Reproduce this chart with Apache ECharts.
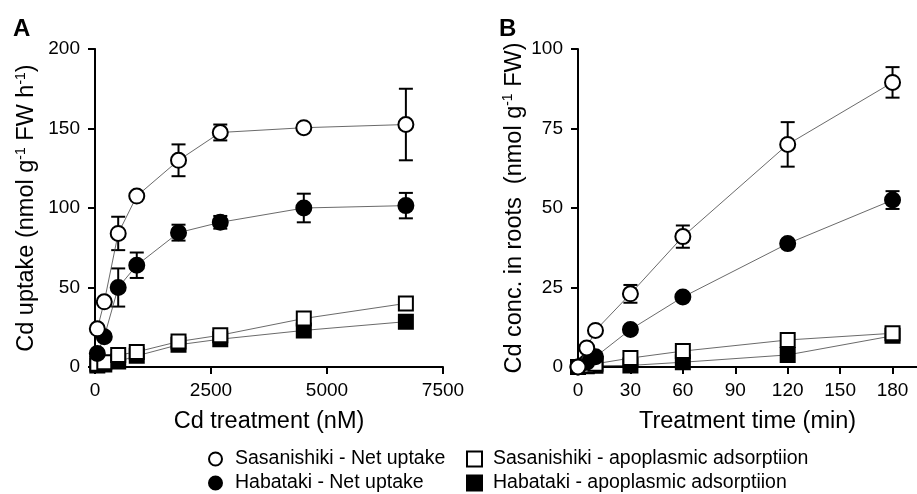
<!DOCTYPE html>
<html>
<head>
<meta charset="utf-8">
<script src="https://cdn.jsdelivr.net/npm/echarts@6/dist/echarts.min.js"></script>
<style>
  html, body { margin: 0; padding: 0; background: #fff; }
  #chart { width: 917px; height: 494px; }
</style>
</head>
<body>
<div id="chart"></div>
<script>
// Panel A: uptake vs Cd treatment (nM)
var concA = [50, 200, 500, 900, 1800, 2700, 4500, 6700];
var sasNetA = [24, 41, 84, 107.5, 130, 147.5, 150.5, 152.5];
var sasNetErrA = [0, 0, 10.5, 0, 10, 5, 0, 22.5];
var habNetA = [8.5, 19, 50, 64, 84.5, 91, 100, 101.5];
var habNetErrA = [0, 0, 12, 8, 5, 4, 9, 8];
var sasApoA = [2, 3, 7.5, 9.5, 16, 20, 30.5, 40];
var habApoA = [1, 1.5, 3.5, 7, 14, 17.5, 23, 28.5];

// Panel B: concentration vs treatment time (min)
var timeB = [0, 5, 10, 30, 60, 120, 180];
var sasNetB = [0, 6, 11.5, 23, 41, 70, 89.5];
var sasNetErrB = [0, 0, 0, 2.8, 3.5, 7, 4.8];
var habNetB = [0, 1.5, 3.2, 11.8, 22, 38.8, 52.5];
var habNetErrB = [0, 0, 0, 0, 0, 0, 2.8];
var sasApoB = [0, 0.5, 1, 2.8, 5, 8.5, 10.6];
var habApoB = [0, 0.2, 0.4, 0.5, 1.5, 3.8, 9.8];

var names = {
  sasNet: 'Sasanishiki - Net uptake',
  habNet: 'Habataki - Net uptake',
  sasApo: 'Sasanishiki - apoplasmic adsorptiion',
  habApo: 'Habataki - apoplasmic adsorptiion'
};

var FONT = "'Liberation Sans', Arial, sans-serif";

function pairs(xs, ys) {
  return xs.map(function(x, i) { return [x, ys[i]]; });
}
function triples(xs, ys, es) {
  return xs.map(function(x, i) { return [x, ys[i], es[i]]; });
}

function lineSeries(name, symbol, filled, data, gi, z) {
  return {
    name: name,
    type: 'line',
    xAxisIndex: gi * 2,
    yAxisIndex: gi * 2,
    data: data,
    symbol: symbol,
    symbolSize: symbol === 'circle' ? 15 : 14,
    showAllSymbol: true,
    z: z,
    lineStyle: { color: '#444', width: 0.8 },
    itemStyle: { color: filled ? '#000' : '#fff', borderColor: '#000', borderWidth: 2, opacity: 1 },
    emphasis: { disabled: true },
    animation: false
  };
}

// vertical error bars with caps, placed through the axes
function errorSeries(data, gi, z) {
  return {
    type: 'custom',
    xAxisIndex: gi * 2,
    yAxisIndex: gi * 2,
    data: data,
    z: z,
    silent: true,
    animation: false,
    renderItem: function(params, api) {
      var x = api.value(0), y = api.value(1), e = api.value(2);
      if (!e) return;
      var top = api.coord([x, y + e]);
      var bot = api.coord([x, y - e]);
      var w = 7;
      var st = { stroke: '#000', lineWidth: 2 };
      return {
        type: 'group',
        children: [
          { type: 'line', shape: { x1: top[0], y1: top[1], x2: bot[0], y2: bot[1] }, style: st },
          { type: 'line', shape: { x1: top[0] - w, y1: top[1], x2: top[0] + w, y2: top[1] }, style: st },
          { type: 'line', shape: { x1: bot[0] - w, y1: bot[1], x2: bot[0] + w, y2: bot[1] }, style: st }
        ]
      };
    }
  };
}

var axisLine = { show: true, lineStyle: { color: '#000', width: 2 } };
var axisTick = { show: true, inside: false, length: 7, lineStyle: { color: '#000', width: 2 } };
var tickLabel = { color: '#000', fontSize: 19, fontFamily: FONT, formatter: function(v) { return String(v); } };
var nameStyle = {
  color: '#000', fontSize: 23.5, fontFamily: FONT, lineHeight: 26,
  rich: { sup: { fontSize: 14, fontFamily: FONT, color: '#000', lineHeight: 14, verticalAlign: 'top' } }
};
var legendText = { fontSize: 19.5, fontFamily: FONT, color: '#000', lineHeight: 20 };

var option = {
  backgroundColor: '#fff',
  animation: false,
  title: [
    { text: 'A', left: 8, top: 12, textStyle: { fontSize: 24, fontWeight: 'bold', fontFamily: FONT, color: '#000' } },
    { text: 'B', left: 494, top: 12, textStyle: { fontSize: 24, fontWeight: 'bold', fontFamily: FONT, color: '#000' } }
  ],
  legend: [
    {
      orient: 'vertical', left: 208, top: 449, padding: 0, itemWidth: 13, itemHeight: 13, itemGap: 4,
      data: [{ name: names.sasNet, icon: 'circle' }, { name: names.habNet, icon: 'circle' }],
      textStyle: Object.assign({ padding: [0, 0, 0, 8] }, legendText)
    },
    {
      orient: 'vertical', left: 466, top: 449, padding: 0, itemWidth: 15, itemHeight: 15, itemGap: 4,
      data: [{ name: names.sasApo, icon: 'rect' }, { name: names.habApo, icon: 'rect' }],
      textStyle: Object.assign({ padding: [0, 0, 0, 6] }, legendText)
    }
  ],
  grid: [
    { left: 95, right: 474, top: 49, bottom: 127 },
    { left: 578, right: 0, top: 49, bottom: 127 }
  ],
  xAxis: [
    {
      gridIndex: 0, type: 'value', min: 0, max: 7500, interval: 2500,
      name: 'Cd treatment (nM)', nameLocation: 'middle', nameGap: 42, nameTextStyle: nameStyle,
      axisLine: axisLine, axisTick: axisTick, splitLine: { show: false },
      axisLabel: Object.assign({ margin: 14 }, tickLabel)
    },
    {
      gridIndex: 0, type: 'value', position: 'top', show: false, min: 0, max: 7500
    },
    {
      gridIndex: 1, type: 'value', min: 0, max: 194, interval: 30,
      name: 'Treatment time (min)', nameLocation: 'middle', nameGap: 42, nameTextStyle: nameStyle,
      axisLine: axisLine, axisTick: axisTick, splitLine: { show: false },
      axisLabel: Object.assign({}, tickLabel, { margin: 14, showMaxLabel: false, formatter: function(v) { return v % 30 === 0 ? String(v) : ''; } })
    },
    {
      gridIndex: 1, type: 'value', position: 'top', min: 0, max: 194,
      axisLine: axisLine, axisTick: { show: false }, axisLabel: { show: false }, splitLine: { show: false }
    }
  ],
  yAxis: [
    {
      gridIndex: 0, type: 'value', min: 0, max: 200, interval: 50,
      name: 'Cd uptake (nmol g{sup|-1} FW h{sup|-1})', nameLocation: 'middle', nameGap: 55, nameTextStyle: nameStyle,
      axisLine: axisLine, axisTick: axisTick, splitLine: { show: false },
      axisLabel: Object.assign({ margin: 15 }, tickLabel)
    },
    {
      gridIndex: 0, type: 'value', position: 'right', min: 0, max: 200,
      axisLine: { show: true, lineStyle: { color: '#000', width: 1.5 } },
      axisTick: { show: false }, axisLabel: { show: false }, splitLine: { show: false }
    },
    {
      gridIndex: 1, type: 'value', min: 0, max: 100, interval: 25,
      name: 'Cd conc. in roots  (nmol g{sup|-1} FW)', nameLocation: 'middle', nameGap: 50, nameTextStyle: nameStyle,
      axisLine: axisLine, axisTick: axisTick, splitLine: { show: false },
      axisLabel: Object.assign({ margin: 15 }, tickLabel)
    },
    {
      gridIndex: 1, type: 'value', show: false, min: 0, max: 100
    }
  ],
  series: [
    lineSeries(names.habApo, 'rect', true, pairs(concA, habApoA), 0, 2),
    lineSeries(names.sasApo, 'rect', false, pairs(concA, sasApoA), 0, 3),
    errorSeries(triples(concA, habNetA, habNetErrA), 0, 4),
    lineSeries(names.habNet, 'circle', true, pairs(concA, habNetA), 0, 5),
    errorSeries(triples(concA, sasNetA, sasNetErrA), 0, 6),
    lineSeries(names.sasNet, 'circle', false, pairs(concA, sasNetA), 0, 7),

    lineSeries(names.habApo, 'rect', true, pairs(timeB, habApoB), 1, 2),
    lineSeries(names.sasApo, 'rect', false, pairs(timeB, sasApoB), 1, 3),
    errorSeries(triples(timeB, habNetB, habNetErrB), 1, 4),
    lineSeries(names.habNet, 'circle', true, pairs(timeB, habNetB), 1, 5),
    errorSeries(triples(timeB, sasNetB, sasNetErrB), 1, 6),
    lineSeries(names.sasNet, 'circle', false, pairs(timeB, sasNetB), 1, 7)
  ]
};

var chart = echarts.init(document.getElementById('chart'), null, { renderer: 'canvas' });
chart.setOption(option);
</script>
</body>
</html>
